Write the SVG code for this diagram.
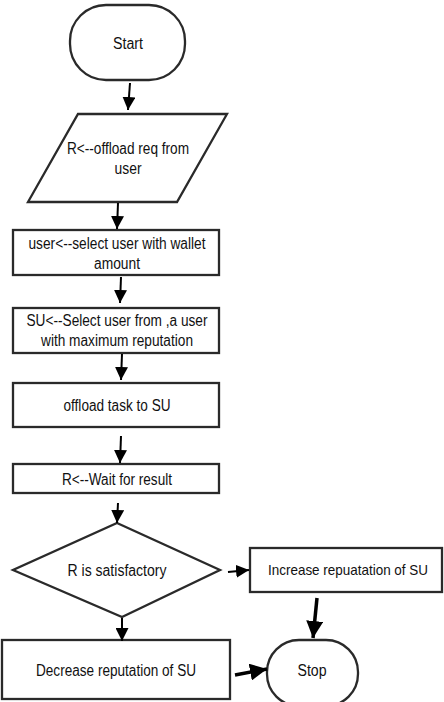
<svg xmlns="http://www.w3.org/2000/svg" width="444" height="702" viewBox="0 0 444 702">
<style>
.s{fill:#fff;stroke:#2a2a2a;stroke-width:2.3}
.t{font-family:"Liberation Sans",Arial,sans-serif;font-size:16px;fill:#111;text-anchor:middle;dominant-baseline:central}
.c{stroke:#000;stroke-width:2;fill:none}
.k{stroke:#000;stroke-width:3.5;fill:none}
</style>
<defs>
<marker id="b" viewBox="0 0 10 10" refX="10" refY="5" markerWidth="17" markerHeight="17" markerUnits="userSpaceOnUse" orient="auto">
<path d="M0,0 L10,5 L0,10 Z" fill="#000"/>
</marker>
<marker id="m" viewBox="0 0 10 10" refX="10" refY="5" markerWidth="13" markerHeight="13" markerUnits="userSpaceOnUse" orient="auto">
<path d="M0,0 L10,5 L0,10 Z" fill="#000"/>
</marker>
</defs>
<rect width="444" height="702" fill="#fff"/>
<g id="start"><rect class="s" x="70" y="5" width="115" height="75" rx="36" ry="36"/><text class="t" x="128" y="43" textLength="30" lengthAdjust="spacingAndGlyphs">Start</text></g>
<g id="input"><polygon class="s" points="78,114 227,114 177,202 28,202"/><text class="t" x="128" y="148" textLength="122" lengthAdjust="spacingAndGlyphs">R&lt;--offload req from</text><text class="t" x="128" y="168" textLength="27" lengthAdjust="spacingAndGlyphs">user</text></g>
<g id="select-user"><rect class="s" x="13" y="230" width="206" height="45"/><text class="t" x="117" y="243" textLength="177" lengthAdjust="spacingAndGlyphs">user&lt;--select user with wallet</text><text class="t" x="117" y="263" textLength="46" lengthAdjust="spacingAndGlyphs">amount</text></g>
<g id="select-su"><rect class="s" x="13" y="308" width="206" height="45"/><text class="t" x="117" y="320" textLength="181" lengthAdjust="spacingAndGlyphs">SU&lt;--Select user from ,a user</text><text class="t" x="117" y="340" textLength="152" lengthAdjust="spacingAndGlyphs">with maximum reputation</text></g>
<g id="offload"><rect class="s" x="13" y="383" width="206" height="44"/><text class="t" x="117" y="405" textLength="107" lengthAdjust="spacingAndGlyphs">offload task to SU</text></g>
<g id="wait"><rect class="s" x="13" y="464" width="206" height="29"/><text class="t" x="117" y="479" textLength="110" lengthAdjust="spacingAndGlyphs">R&lt;--Wait for result</text></g>
<g id="decision"><polygon class="s" points="117,523 220,570 122,617 13,570"/><text class="t" x="117" y="570" textLength="99" lengthAdjust="spacingAndGlyphs">R is satisfactory</text></g>
<g id="increase"><rect class="s" x="250" y="548" width="192" height="44"/><text class="t" x="348" y="570" style="font-size:14.5px" textLength="160" lengthAdjust="spacingAndGlyphs">Increase repuatation of SU</text></g>
<g id="decrease"><rect class="s" x="2" y="640" width="228" height="59"/><text class="t" x="116" y="670" textLength="160" lengthAdjust="spacingAndGlyphs">Decrease reputation of SU</text></g>
<g id="stop"><rect class="s" x="267" y="640" width="91" height="66" rx="32" ry="32"/><text class="t" x="312" y="670" textLength="29" lengthAdjust="spacingAndGlyphs">Stop</text></g>
<g id="connectors">
<path class="c" d="M130,83 L128,110" marker-end="url(#m)"/>
<path class="c" d="M118,203 L117,229" marker-end="url(#m)"/>
<path class="c" d="M121,277 L120,303" marker-end="url(#m)"/>
<path class="c" d="M122,354 L121,380" marker-end="url(#m)"/>
<path class="c" d="M121,436 L120,463" marker-end="url(#m)"/>
<path class="c" d="M118,503 L117,523" marker-end="url(#m)"/>
<path class="c" d="M228,572 L249,570" marker-end="url(#m)"/>
<path class="c" d="M122,618 L122,641" marker-end="url(#m)"/>
<path class="k" d="M317,598 L313,638" marker-end="url(#b)"/>
<path class="k" d="M235,675 L267,669" marker-end="url(#b)"/>
</g>
</svg>
